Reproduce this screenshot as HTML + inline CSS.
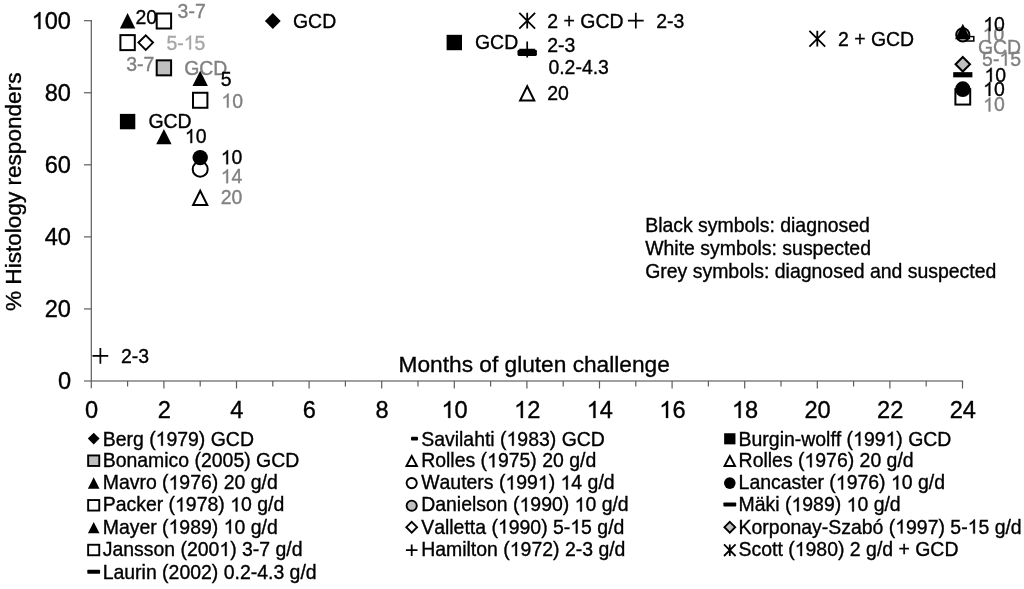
<!DOCTYPE html>
<html><head><meta charset="utf-8"><title>Chart</title>
<style>
html,body{margin:0;padding:0;background:#fff;}
body{width:1024px;height:589px;overflow:hidden;font-family:"Liberation Sans",sans-serif;}
svg{display:block;will-change:transform;transform:translateZ(0);}
text{font-family:"Liberation Sans",sans-serif;-webkit-font-smoothing:antialiased;font-kerning:none;font-variant-ligatures:none;}
.ax{font-size:23.6px;fill:#000}
.dl{font-size:19.45px}
.lg{font-size:19.45px;fill:#000}
.k{fill:#000}.g{fill:#808080;stroke:#808080}.lgy{fill:#a6a6a6;stroke:#a6a6a6}
text{stroke:#000;stroke-width:.35px}
</style></head><body>
<svg width="1024" height="589" viewBox="0 0 1024 589">
<rect width="1024" height="589" fill="#fff"></rect>

<g fill="none">
<line x1="84.0" y1="381.0" x2="963.0999999999999" y2="381.0" stroke="#808080" stroke-width="1.7"></line>
<g stroke="#5c5c5c" stroke-width="1.2">
<line x1="91.3" y1="20.10" x2="91.3" y2="388.2"></line>
<line x1="84.0" y1="308.94" x2="91.3" y2="308.94"></line>
<line x1="84.0" y1="236.88" x2="91.3" y2="236.88"></line>
<line x1="84.0" y1="164.82" x2="91.3" y2="164.82"></line>
<line x1="84.0" y1="92.76" x2="91.3" y2="92.76"></line>
<line x1="84.0" y1="20.70" x2="91.3" y2="20.70"></line>
<line x1="127.60" y1="381.0" x2="127.60" y2="386.6"></line>
<line x1="163.90" y1="381.0" x2="163.90" y2="388.5"></line>
<line x1="200.20" y1="381.0" x2="200.20" y2="386.6"></line>
<line x1="236.50" y1="381.0" x2="236.50" y2="388.5"></line>
<line x1="272.80" y1="381.0" x2="272.80" y2="386.6"></line>
<line x1="309.10" y1="381.0" x2="309.10" y2="388.5"></line>
<line x1="345.40" y1="381.0" x2="345.40" y2="386.6"></line>
<line x1="381.70" y1="381.0" x2="381.70" y2="388.5"></line>
<line x1="418.00" y1="381.0" x2="418.00" y2="386.6"></line>
<line x1="454.30" y1="381.0" x2="454.30" y2="388.5"></line>
<line x1="490.60" y1="381.0" x2="490.60" y2="386.6"></line>
<line x1="526.90" y1="381.0" x2="526.90" y2="388.5"></line>
<line x1="563.20" y1="381.0" x2="563.20" y2="386.6"></line>
<line x1="599.50" y1="381.0" x2="599.50" y2="388.5"></line>
<line x1="635.80" y1="381.0" x2="635.80" y2="386.6"></line>
<line x1="672.10" y1="381.0" x2="672.10" y2="388.5"></line>
<line x1="708.40" y1="381.0" x2="708.40" y2="386.6"></line>
<line x1="744.70" y1="381.0" x2="744.70" y2="388.5"></line>
<line x1="781.00" y1="381.0" x2="781.00" y2="386.6"></line>
<line x1="817.30" y1="381.0" x2="817.30" y2="388.5"></line>
<line x1="853.60" y1="381.0" x2="853.60" y2="386.6"></line>
<line x1="889.90" y1="381.0" x2="889.90" y2="388.5"></line>
<line x1="926.20" y1="381.0" x2="926.20" y2="386.6"></line>
<line x1="962.50" y1="381.0" x2="962.50" y2="388.5"></line>
</g></g>
<text class="ax" x="71" y="389.30" text-anchor="end">0</text>
<text class="ax" x="71" y="317.24" text-anchor="end">20</text>
<text class="ax" x="71" y="245.18" text-anchor="end">40</text>
<text class="ax" x="71" y="173.12" text-anchor="end">60</text>
<text class="ax" x="71" y="101.06" text-anchor="end">80</text>
<text class="ax" x="31.63" y="29.00"><tspan x="44.73">00</tspan></text><path d="M763 0H583V1147Q518 1085 412.5 1023T223 930V1104Q374 1175 487 1276T647 1472H763Z" transform="translate(31.63 29.00) scale(0.01152 -0.01152)" fill="rgb(0, 0, 0)" stroke="rgb(0, 0, 0)" stroke-width="30.4"></path>
<text class="ax" x="91.60" y="417.9" text-anchor="middle">0</text>
<text class="ax" x="164.20" y="417.9" text-anchor="middle">2</text>
<text class="ax" x="236.80" y="417.9" text-anchor="middle">4</text>
<text class="ax" x="309.40" y="417.9" text-anchor="middle">6</text>
<text class="ax" x="382.00" y="417.9" text-anchor="middle">8</text>
<text class="ax" x="441.48" y="417.90"><tspan x="454.58">0</tspan></text><path d="M763 0H583V1147Q518 1085 412.5 1023T223 930V1104Q374 1175 487 1276T647 1472H763Z" transform="translate(441.48 417.90) scale(0.01152 -0.01152)" fill="rgb(0, 0, 0)" stroke="rgb(0, 0, 0)" stroke-width="30.4"></path>
<text class="ax" x="514.08" y="417.90"><tspan x="527.18">2</tspan></text><path d="M763 0H583V1147Q518 1085 412.5 1023T223 930V1104Q374 1175 487 1276T647 1472H763Z" transform="translate(514.08 417.90) scale(0.01152 -0.01152)" fill="rgb(0, 0, 0)" stroke="rgb(0, 0, 0)" stroke-width="30.4"></path>
<text class="ax" x="586.67" y="417.90"><tspan x="599.78">4</tspan></text><path d="M763 0H583V1147Q518 1085 412.5 1023T223 930V1104Q374 1175 487 1276T647 1472H763Z" transform="translate(586.67 417.90) scale(0.01152 -0.01152)" fill="rgb(0, 0, 0)" stroke="rgb(0, 0, 0)" stroke-width="30.4"></path>
<text class="ax" x="659.28" y="417.90"><tspan x="672.38">6</tspan></text><path d="M763 0H583V1147Q518 1085 412.5 1023T223 930V1104Q374 1175 487 1276T647 1472H763Z" transform="translate(659.28 417.90) scale(0.01152 -0.01152)" fill="rgb(0, 0, 0)" stroke="rgb(0, 0, 0)" stroke-width="30.4"></path>
<text class="ax" x="731.88" y="417.90"><tspan x="744.98">8</tspan></text><path d="M763 0H583V1147Q518 1085 412.5 1023T223 930V1104Q374 1175 487 1276T647 1472H763Z" transform="translate(731.88 417.90) scale(0.01152 -0.01152)" fill="rgb(0, 0, 0)" stroke="rgb(0, 0, 0)" stroke-width="30.4"></path>
<text class="ax" x="817.60" y="417.9" text-anchor="middle">20</text>
<text class="ax" x="890.20" y="417.9" text-anchor="middle">22</text>
<text class="ax" x="962.80" y="417.9" text-anchor="middle">24</text>
<text class="ax" x="398.6" y="371.8" style="font-size:22.7px">Months of gluten challenge</text>
<text class="ax" transform="translate(20.9,311.0) rotate(-90)" style="font-size:22.58px">% Histology responders</text>
<text class="lg" x="645.2" y="232.3">Black symbols: diagnosed</text>
<text class="lg" x="645.2" y="254.9">White symbols: suspected</text>
<text class="lg" x="645.2" y="277.5">Grey symbols: diagnosed and suspected</text>
<text class="dl k" x="135.40" y="24.00">20</text>
<path d="M127.60 13.00L135.30 28.40L119.90 28.40Z" fill="#000"></path>
<rect x="156.70" y="13.50" width="14.40" height="15.00" fill="#fff" stroke="#000" stroke-width="2.0"></rect>
<text class="dl g" x="177.60" y="17.80">3-7</text>
<rect x="120.40" y="35.12" width="14.40" height="15.00" fill="#fff" stroke="#000" stroke-width="2.0"></rect>
<text class="dl g" x="126.30" y="70.50">3-7</text>
<path d="M145.75 35.38L152.99 42.62L145.75 49.85L138.51 42.62Z" fill="#fff" stroke="#000" stroke-width="2.0" stroke-linejoin="miter"></path>
<text class="dl lgy" x="166.50" y="49.50"><tspan x="166.50">5-</tspan><tspan x="194.58">5</tspan></text><path d="M763 0H583V1147Q518 1085 412.5 1023T223 930V1104Q374 1175 487 1276T647 1472H763Z" transform="translate(183.78 49.50) scale(0.00950 -0.00950)" fill="rgb(166, 166, 166)" stroke="rgb(166, 166, 166)" stroke-width="36.9"></path>
<rect x="156.70" y="60.34" width="14.40" height="15.00" fill="#bfbfbf" stroke="#000" stroke-width="2.0"></rect>
<text class="dl g" x="184.20" y="74.90">GCD</text>
<path d="M200.20 70.65L207.90 86.05L192.50 86.05Z" fill="#000"></path>
<text class="dl k" x="220.80" y="85.90">5</text>
<rect x="193.00" y="92.77" width="14.40" height="15.00" fill="#fff" stroke="#000" stroke-width="2.0"></rect>
<text class="dl g" x="221.40" y="107.50"><tspan x="232.20">0</tspan></text><path d="M763 0H583V1147Q518 1085 412.5 1023T223 930V1104Q374 1175 487 1276T647 1472H763Z" transform="translate(221.40 107.50) scale(0.00950 -0.00950)" fill="rgb(128, 128, 128)" stroke="rgb(128, 128, 128)" stroke-width="36.9"></path>
<rect x="119.90" y="113.88" width="15.4" height="15.4" fill="#000"></rect>
<text class="dl k" x="148.40" y="128.30">GCD</text>
<path d="M163.90 128.90L171.60 144.30L156.20 144.30Z" fill="#000"></path>
<text class="dl k" x="184.90" y="143.10"><tspan x="195.70">0</tspan></text><path d="M763 0H583V1147Q518 1085 412.5 1023T223 930V1104Q374 1175 487 1276T647 1472H763Z" transform="translate(184.90 143.10) scale(0.00950 -0.00950)" fill="rgb(0, 0, 0)" stroke="rgb(0, 0, 0)" stroke-width="36.9"></path>
<circle cx="200.20" cy="169.22" r="7.50" fill="#fff" stroke="#000" stroke-width="2.0"></circle>
<text class="dl g" x="220.80" y="183.20"><tspan x="231.60">4</tspan></text><path d="M763 0H583V1147Q518 1085 412.5 1023T223 930V1104Q374 1175 487 1276T647 1472H763Z" transform="translate(220.80 183.20) scale(0.00950 -0.00950)" fill="rgb(128, 128, 128)" stroke="rgb(128, 128, 128)" stroke-width="36.9"></path>
<circle cx="200.20" cy="157.61" r="7.70" fill="#000"></circle>
<text class="dl k" x="220.80" y="164.20"><tspan x="231.60">0</tspan></text><path d="M763 0H583V1147Q518 1085 412.5 1023T223 930V1104Q374 1175 487 1276T647 1472H763Z" transform="translate(220.80 164.20) scale(0.00950 -0.00950)" fill="rgb(0, 0, 0)" stroke="rgb(0, 0, 0)" stroke-width="36.9"></path>
<path d="M200.20 190.78L207.28 204.95L193.12 204.95Z" fill="#fff" stroke="#000" stroke-width="2.0" stroke-linejoin="miter"></path>
<text class="dl g" x="220.80" y="204.10">20</text>
<path d="M92.47 355.78H108.28M100.38 347.88V363.68" stroke="#000" stroke-width="1.7" fill="none"></path>
<text class="dl k" x="120.90" y="363.00">2-3</text>
<path d="M272.80 13.10L280.70 21.00L272.80 28.90L264.90 21.00Z" fill="#000"></path>
<text class="dl k" x="293.00" y="27.70">GCD</text>
<rect x="446.60" y="34.82" width="15.4" height="15.4" fill="#000"></rect>
<text class="dl k" x="475.00" y="49.00">GCD</text>
<path d="M519.30 12.80L535.10 28.60M535.10 12.80L519.30 28.60M527.20 12.80V28.60" stroke="#000" stroke-width="1.8" fill="none"></path>
<text class="dl k" x="547.30" y="27.50">2 + GCD</text>
<path d="M519.30 49.52H535.10M527.20 41.62V57.42" stroke="#000" stroke-width="1.7" fill="none"></path>
<text class="dl k" x="547.30" y="51.50">2-3</text>
<rect x="517.50" y="49.80" width="19.4" height="6.2" rx="1.4" fill="#000"></rect>
<text class="dl k" x="548.40" y="73.50">0.2-4.3</text>
<path d="M527.20 86.30L534.28 100.46L520.12 100.46Z" fill="#fff" stroke="#000" stroke-width="2.0" stroke-linejoin="miter"></path>
<text class="dl k" x="547.30" y="99.80">20</text>
<path d="M627.90 20.70H643.70M635.80 12.80V28.60" stroke="#000" stroke-width="1.7" fill="none"></path>
<text class="dl k" x="656.30" y="27.70">2-3</text>
<path d="M809.40 30.81L825.20 46.61M825.20 30.81L809.40 46.61M817.30 30.81V46.61" stroke="#000" stroke-width="1.8" fill="none"></path>
<text class="dl k" x="838.00" y="45.80">2 + GCD</text>
<rect x="962.7999999999998" y="36.6" width="11" height="4.4" fill="#fff" stroke="#000" stroke-width="1.5"></rect>
<circle cx="962.80" cy="34.81" r="6.60" fill="#bfbfbf" stroke="#000" stroke-width="2.0"></circle>
<path d="M962.80 23.81L970.50 39.21L955.10 39.21Z" fill="#000"></path>
<text class="dl g" x="982.70" y="40.90"><tspan x="993.50">0</tspan></text><path d="M763 0H583V1147Q518 1085 412.5 1023T223 930V1104Q374 1175 487 1276T647 1472H763Z" transform="translate(982.70 40.90) scale(0.00950 -0.00950)" fill="rgb(128, 128, 128)" stroke="rgb(128, 128, 128)" stroke-width="36.9"></path>
<text class="dl k" x="983.30" y="31.10"><tspan x="994.10">0</tspan></text><path d="M763 0H583V1147Q518 1085 412.5 1023T223 930V1104Q374 1175 487 1276T647 1472H763Z" transform="translate(983.30 31.10) scale(0.00950 -0.00950)" fill="rgb(0, 0, 0)" stroke="rgb(0, 0, 0)" stroke-width="36.9"></path>
<text class="dl g" x="977.90" y="53.80">GCD</text>
<path d="M962.80 57.00L970.04 64.24L962.80 71.47L955.56 64.24Z" fill="#bfbfbf" stroke="#000" stroke-width="2.0" stroke-linejoin="miter"></path>
<text class="dl g" x="982.10" y="65.70"><tspan x="982.10">5-</tspan><tspan x="1010.18">5</tspan></text><path d="M763 0H583V1147Q518 1085 412.5 1023T223 930V1104Q374 1175 487 1276T647 1472H763Z" transform="translate(999.38 65.70) scale(0.00950 -0.00950)" fill="rgb(128, 128, 128)" stroke="rgb(128, 128, 128)" stroke-width="36.9"></path>
<rect x="953.20" y="72.15" width="19.2" height="5.2" rx="0" fill="#000"></rect>
<text class="dl k" x="984.50" y="81.80"><tspan x="995.30">0</tspan></text><path d="M763 0H583V1147Q518 1085 412.5 1023T223 930V1104Q374 1175 487 1276T647 1472H763Z" transform="translate(984.50 81.80) scale(0.00950 -0.00950)" fill="rgb(0, 0, 0)" stroke="rgb(0, 0, 0)" stroke-width="36.9"></path>
<rect x="955.40" y="89.16" width="14.80" height="15.40" fill="#fff" stroke="#000" stroke-width="2.0"></rect>
<text class="dl g" x="983.10" y="111.40"><tspan x="993.90">0</tspan></text><path d="M763 0H583V1147Q518 1085 412.5 1023T223 930V1104Q374 1175 487 1276T647 1472H763Z" transform="translate(983.10 111.40) scale(0.00950 -0.00950)" fill="rgb(128, 128, 128)" stroke="rgb(128, 128, 128)" stroke-width="36.9"></path>
<circle cx="962.80" cy="89.16" r="7.80" fill="#000"></circle>
<text class="dl k" x="983.10" y="95.90"><tspan x="993.90">0</tspan></text><path d="M763 0H583V1147Q518 1085 412.5 1023T223 930V1104Q374 1175 487 1276T647 1472H763Z" transform="translate(983.10 95.90) scale(0.00950 -0.00950)" fill="rgb(0, 0, 0)" stroke="rgb(0, 0, 0)" stroke-width="36.9"></path>
<path d="M93.70 432.70L99.60 438.60L93.70 444.50L87.80 438.60Z" fill="#000"></path>
<text class="lg" x="102.70" y="445.70"><tspan x="102.70">Berg (</tspan><tspan x="166.43">979) GCD</tspan></text><path d="M763 0H583V1147Q518 1085 412.5 1023T223 930V1104Q374 1175 487 1276T647 1472H763Z" transform="translate(155.62 445.70) scale(0.00950 -0.00950)" fill="rgb(0, 0, 0)" stroke="rgb(0, 0, 0)" stroke-width="36.9"></path>
<rect x="411.00" y="436.80" width="7" height="3.8" rx="1" fill="#000"></rect>
<text class="lg" x="421.20" y="445.70"><tspan x="421.20">Savilahti (</tspan><tspan x="517.34">983) GCD</tspan></text><path d="M763 0H583V1147Q518 1085 412.5 1023T223 930V1104Q374 1175 487 1276T647 1472H763Z" transform="translate(506.53 445.70) scale(0.00950 -0.00950)" fill="rgb(0, 0, 0)" stroke="rgb(0, 0, 0)" stroke-width="36.9"></path>
<rect x="724.15" y="433.25" width="11.3" height="11.1" fill="#000"></rect>
<text class="lg" x="738.60" y="445.70"><tspan x="738.60">Burgin-wolff (</tspan><tspan x="863.90">99</tspan><tspan x="896.33">) GCD</tspan></text><path d="M763 0H583V1147Q518 1085 412.5 1023T223 930V1104Q374 1175 487 1276T647 1472H763Z" transform="translate(853.08 445.70) scale(0.00950 -0.00950)" fill="rgb(0, 0, 0)" stroke="rgb(0, 0, 0)" stroke-width="36.9"></path><path d="M763 0H583V1147Q518 1085 412.5 1023T223 930V1104Q374 1175 487 1276T647 1472H763Z" transform="translate(885.52 445.70) scale(0.00950 -0.00950)" fill="rgb(0, 0, 0)" stroke="rgb(0, 0, 0)" stroke-width="36.9"></path>
<rect x="88.15" y="455.45" width="11.10" height="10.50" fill="#bfbfbf" stroke="#000" stroke-width="1.9"></rect>
<text class="lg" x="102.7" y="467.3">Bonamico (2005) GCD</text>
<path d="M411.70 456.02L416.96 465.95L406.44 465.95Z" fill="#fff" stroke="#000" stroke-width="1.9" stroke-linejoin="miter"></path>
<text class="lg" x="421.20" y="467.30"><tspan x="421.20">Rolles (</tspan><tspan x="497.89">975) 20 g/d</tspan></text><path d="M763 0H583V1147Q518 1085 412.5 1023T223 930V1104Q374 1175 487 1276T647 1472H763Z" transform="translate(487.08 467.30) scale(0.00950 -0.00950)" fill="rgb(0, 0, 0)" stroke="rgb(0, 0, 0)" stroke-width="36.9"></path>
<path d="M729.80 456.02L735.06 465.95L724.54 465.95Z" fill="#fff" stroke="#000" stroke-width="1.9" stroke-linejoin="miter"></path>
<text class="lg" x="738.60" y="467.30"><tspan x="738.60">Rolles (</tspan><tspan x="815.29">976) 20 g/d</tspan></text><path d="M763 0H583V1147Q518 1085 412.5 1023T223 930V1104Q374 1175 487 1276T647 1472H763Z" transform="translate(804.47 467.30) scale(0.00950 -0.00950)" fill="rgb(0, 0, 0)" stroke="rgb(0, 0, 0)" stroke-width="36.9"></path>
<path d="M93.70 477.35L99.50 488.65L87.90 488.65Z" fill="#000"></path>
<text class="lg" x="102.70" y="489.40"><tspan x="102.70">Mavro (</tspan><tspan x="179.37">976) 20 g/d</tspan></text><path d="M763 0H583V1147Q518 1085 412.5 1023T223 930V1104Q374 1175 487 1276T647 1472H763Z" transform="translate(168.57 489.40) scale(0.00950 -0.00950)" fill="rgb(0, 0, 0)" stroke="rgb(0, 0, 0)" stroke-width="36.9"></path>
<circle cx="411.70" cy="483.10" r="5.10" fill="#fff" stroke="#000" stroke-width="1.9"></circle>
<text class="lg" x="421.20" y="489.40"><tspan x="421.20">Wauters (</tspan><tspan x="516.25">99</tspan><tspan x="548.67">) </tspan><tspan x="571.36">4 g/d</tspan></text><path d="M763 0H583V1147Q518 1085 412.5 1023T223 930V1104Q374 1175 487 1276T647 1472H763Z" transform="translate(505.43 489.40) scale(0.00950 -0.00950)" fill="rgb(0, 0, 0)" stroke="rgb(0, 0, 0)" stroke-width="36.9"></path><path d="M763 0H583V1147Q518 1085 412.5 1023T223 930V1104Q374 1175 487 1276T647 1472H763Z" transform="translate(537.87 489.40) scale(0.00950 -0.00950)" fill="rgb(0, 0, 0)" stroke="rgb(0, 0, 0)" stroke-width="36.9"></path><path d="M763 0H583V1147Q518 1085 412.5 1023T223 930V1104Q374 1175 487 1276T647 1472H763Z" transform="translate(560.54 489.40) scale(0.00950 -0.00950)" fill="rgb(0, 0, 0)" stroke="rgb(0, 0, 0)" stroke-width="36.9"></path>
<circle cx="729.80" cy="483.10" r="5.80" fill="#000"></circle>
<text class="lg" x="738.60" y="489.40"><tspan x="738.60">Lancaster (</tspan><tspan x="846.63">976) </tspan><tspan x="901.76">0 g/d</tspan></text><path d="M763 0H583V1147Q518 1085 412.5 1023T223 930V1104Q374 1175 487 1276T647 1472H763Z" transform="translate(835.83 489.40) scale(0.00950 -0.00950)" fill="rgb(0, 0, 0)" stroke="rgb(0, 0, 0)" stroke-width="36.9"></path><path d="M763 0H583V1147Q518 1085 412.5 1023T223 930V1104Q374 1175 487 1276T647 1472H763Z" transform="translate(890.94 489.40) scale(0.00950 -0.00950)" fill="rgb(0, 0, 0)" stroke="rgb(0, 0, 0)" stroke-width="36.9"></path>
<rect x="88.15" y="500.05" width="11.10" height="10.50" fill="#fff" stroke="#000" stroke-width="1.9"></rect>
<text class="lg" x="102.70" y="511.40"><tspan x="102.70">Packer (</tspan><tspan x="185.87">978) </tspan><tspan x="240.98">0 g/d</tspan></text><path d="M763 0H583V1147Q518 1085 412.5 1023T223 930V1104Q374 1175 487 1276T647 1472H763Z" transform="translate(175.06 511.40) scale(0.00950 -0.00950)" fill="rgb(0, 0, 0)" stroke="rgb(0, 0, 0)" stroke-width="36.9"></path><path d="M763 0H583V1147Q518 1085 412.5 1023T223 930V1104Q374 1175 487 1276T647 1472H763Z" transform="translate(230.17 511.40) scale(0.00950 -0.00950)" fill="rgb(0, 0, 0)" stroke="rgb(0, 0, 0)" stroke-width="36.9"></path>
<circle cx="411.70" cy="505.70" r="5.10" fill="#bfbfbf" stroke="#000" stroke-width="1.9"></circle>
<text class="lg" x="421.20" y="511.40"><tspan x="421.20">Danielson (</tspan><tspan x="530.33">990) </tspan><tspan x="585.43">0 g/d</tspan></text><path d="M763 0H583V1147Q518 1085 412.5 1023T223 930V1104Q374 1175 487 1276T647 1472H763Z" transform="translate(519.51 511.40) scale(0.00950 -0.00950)" fill="rgb(0, 0, 0)" stroke="rgb(0, 0, 0)" stroke-width="36.9"></path><path d="M763 0H583V1147Q518 1085 412.5 1023T223 930V1104Q374 1175 487 1276T647 1472H763Z" transform="translate(574.62 511.40) scale(0.00950 -0.00950)" fill="rgb(0, 0, 0)" stroke="rgb(0, 0, 0)" stroke-width="36.9"></path>
<rect x="723.40" y="502.50" width="12.8" height="4.0" rx="0.8" fill="#000"></rect>
<text class="lg" x="738.60" y="511.40"><tspan x="738.60">Mäki (</tspan><tspan x="802.32">989) </tspan><tspan x="857.43">0 g/d</tspan></text><path d="M763 0H583V1147Q518 1085 412.5 1023T223 930V1104Q374 1175 487 1276T647 1472H763Z" transform="translate(791.51 511.40) scale(0.00950 -0.00950)" fill="rgb(0, 0, 0)" stroke="rgb(0, 0, 0)" stroke-width="36.9"></path><path d="M763 0H583V1147Q518 1085 412.5 1023T223 930V1104Q374 1175 487 1276T647 1472H763Z" transform="translate(846.62 511.40) scale(0.00950 -0.00950)" fill="rgb(0, 0, 0)" stroke="rgb(0, 0, 0)" stroke-width="36.9"></path>
<path d="M93.70 522.05L99.50 533.35L87.90 533.35Z" fill="#000"></path>
<text class="lg" x="102.70" y="533.60"><tspan x="102.70">Mayer (</tspan><tspan x="179.37">989) </tspan><tspan x="234.50">0 g/d</tspan></text><path d="M763 0H583V1147Q518 1085 412.5 1023T223 930V1104Q374 1175 487 1276T647 1472H763Z" transform="translate(168.57 533.60) scale(0.00950 -0.00950)" fill="rgb(0, 0, 0)" stroke="rgb(0, 0, 0)" stroke-width="36.9"></path><path d="M763 0H583V1147Q518 1085 412.5 1023T223 930V1104Q374 1175 487 1276T647 1472H763Z" transform="translate(223.68 533.60) scale(0.00950 -0.00950)" fill="rgb(0, 0, 0)" stroke="rgb(0, 0, 0)" stroke-width="36.9"></path>
<path d="M411.70 521.84L417.06 527.20L411.70 532.56L406.34 527.20Z" fill="#fff" stroke="#000" stroke-width="1.9" stroke-linejoin="miter"></path>
<text class="lg" x="421.20" y="533.60"><tspan x="421.20">Valletta (</tspan><tspan x="508.72">990) 5-</tspan><tspan x="581.11">5 g/d</tspan></text><path d="M763 0H583V1147Q518 1085 412.5 1023T223 930V1104Q374 1175 487 1276T647 1472H763Z" transform="translate(497.90 533.60) scale(0.00950 -0.00950)" fill="rgb(0, 0, 0)" stroke="rgb(0, 0, 0)" stroke-width="36.9"></path><path d="M763 0H583V1147Q518 1085 412.5 1023T223 930V1104Q374 1175 487 1276T647 1472H763Z" transform="translate(570.29 533.60) scale(0.00950 -0.00950)" fill="rgb(0, 0, 0)" stroke="rgb(0, 0, 0)" stroke-width="36.9"></path>
<path d="M729.80 521.84L735.16 527.20L729.80 532.56L724.44 527.20Z" fill="#bfbfbf" stroke="#000" stroke-width="1.9" stroke-linejoin="miter"></path>
<text class="lg" x="738.60" y="533.60"><tspan x="738.60">Korponay-Szabó (</tspan><tspan x="906.07">997) 5-</tspan><tspan x="978.46">5 g/d</tspan></text><path d="M763 0H583V1147Q518 1085 412.5 1023T223 930V1104Q374 1175 487 1276T647 1472H763Z" transform="translate(895.26 533.60) scale(0.00950 -0.00950)" fill="rgb(0, 0, 0)" stroke="rgb(0, 0, 0)" stroke-width="36.9"></path><path d="M763 0H583V1147Q518 1085 412.5 1023T223 930V1104Q374 1175 487 1276T647 1472H763Z" transform="translate(967.66 533.60) scale(0.00950 -0.00950)" fill="rgb(0, 0, 0)" stroke="rgb(0, 0, 0)" stroke-width="36.9"></path>
<rect x="88.15" y="544.75" width="11.10" height="10.50" fill="#fff" stroke="#000" stroke-width="1.9"></rect>
<text class="lg" x="102.70" y="556.00"><tspan x="102.70">Jansson (200</tspan><tspan x="230.20">) 3-7 g/d</tspan></text><path d="M763 0H583V1147Q518 1085 412.5 1023T223 930V1104Q374 1175 487 1276T647 1472H763Z" transform="translate(219.39 556.00) scale(0.00950 -0.00950)" fill="rgb(0, 0, 0)" stroke="rgb(0, 0, 0)" stroke-width="36.9"></path>
<path d="M405.90 550.20H417.50M411.70 544.40V556.00" stroke="#000" stroke-width="1.8" fill="none"></path>
<text class="lg" x="421.20" y="556.00"><tspan x="421.20">Hamilton (</tspan><tspan x="520.58">972) 2-3 g/d</tspan></text><path d="M763 0H583V1147Q518 1085 412.5 1023T223 930V1104Q374 1175 487 1276T647 1472H763Z" transform="translate(509.76 556.00) scale(0.00950 -0.00950)" fill="rgb(0, 0, 0)" stroke="rgb(0, 0, 0)" stroke-width="36.9"></path>
<path d="M724.00 544.40L735.60 556.00M735.60 544.40L724.00 556.00M729.80 544.40V556.00" stroke="#000" stroke-width="1.8" fill="none"></path>
<text class="lg" x="738.60" y="556.00"><tspan x="738.60">Scott (</tspan><tspan x="805.57">980) 2 g/d + GCD</tspan></text><path d="M763 0H583V1147Q518 1085 412.5 1023T223 930V1104Q374 1175 487 1276T647 1472H763Z" transform="translate(794.76 556.00) scale(0.00950 -0.00950)" fill="rgb(0, 0, 0)" stroke="rgb(0, 0, 0)" stroke-width="36.9"></path>
<rect x="87.30" y="569.80" width="12.8" height="4.0" rx="0.8" fill="#000"></rect>
<text class="lg" x="102.7" y="578.8">Laurin (2002) 0.2-4.3 g/d</text>
</svg></body></html>
